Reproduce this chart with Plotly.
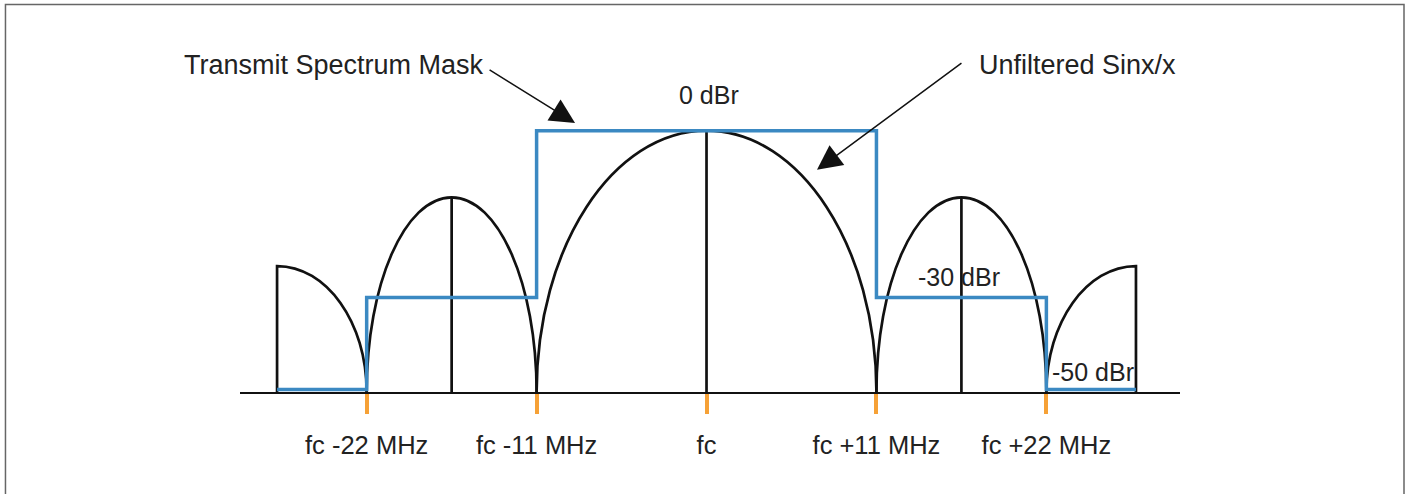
"""
802.11b transmit spectrum mask vs. unfiltered sinx/x spectrum
"""

import plotly.graph_objects as go

# frequency offsets from fc, MHz
tick_mhz = [-22, -11, 0, 11, 22]
tick_text = ["fc -22 MHz", "fc -11 MHz", "fc", "fc +11 MHz", "fc +22 MHz"]

# full sinx/x lobes (heights as drawn, main lobe = 1)
lobe_start = [-22, -11, 11]
lobe_end = [-11, 11, 22]
lobe_height = [0.745, 1.0, 0.745]

# outer half lobes, cut at their peak
half_peak = [-27.8, 27.8]
half_null = [-22, 22]
half_height = [0.482, 0.482]

# transmit spectrum mask
mask_edges = [-27.8, -22, -11, 11, 22, 27.8]
mask_level = [0.010, 0.362, 1.0, 0.362, 0.010]

BLACK = "#111111"
BLUE = "#3b89c2"
ORANGE = "#f6a136"
TEXT = "#222222"
FONT = "Liberation Sans, Arial, Helvetica, sans-serif"
K = 0.5523  # bezier constant for a quarter ellipse

fig = go.Figure()

# mask as a step line
fig.add_trace(go.Scatter(
    x=mask_edges,
    y=mask_level + [mask_level[-1]],
    mode="lines",
    line=dict(color=BLUE, width=3.5, shape="hv"),
    hoverinfo="skip",
    showlegend=False,
))

shapes = []
line_style = dict(color=BLACK, width=2.7)

# full lobes with a centre line
for a, b, h in zip(lobe_start, lobe_end, lobe_height):
    c = (a + b) / 2
    w = (b - a) / 2
    path = (f"M {a},0 C {a},{K*h} {c-K*w},{h} {c},{h} "
            f"C {c+K*w},{h} {b},{K*h} {b},0")
    shapes.append(dict(type="path", path=path, xref="x", yref="y",
                       line=line_style, layer="below"))
    shapes.append(dict(type="line", x0=c, x1=c, y0=0, y1=h, xref="x", yref="y",
                       line=line_style, layer="below"))

# half lobes at the outer edges
for p, n, h in zip(half_peak, half_null, half_height):
    w = n - p
    path = f"M {p},0 L {p},{h} C {p+K*w},{h} {n},{K*h} {n},0"
    shapes.append(dict(type="path", path=path, xref="x", yref="y",
                       line=line_style, layer="below"))

# frame around the picture
shapes.append(dict(type="rect", xref="paper", yref="paper",
                   x0=-0.2495, x1=1.2383, y0=-0.3, y1=0.9885,
                   line=dict(color="#666666", width=1.5)))

annotations = [
    dict(text="Transmit Spectrum Mask", x=-14.3, y=1.25, xanchor="right",
         showarrow=False, font=dict(family=FONT, size=27, color=TEXT)),
    dict(text="Unfiltered Sinx/x", x=17.5, y=1.25, xanchor="left",
         showarrow=False, font=dict(family=FONT, size=27, color=TEXT)),
    dict(text="0 dBr", x=0.15, y=1.137, showarrow=False,
         font=dict(family=FONT, size=25, color=TEXT)),
    dict(text="-30 dBr", x=16.35, y=0.441, showarrow=False,
         font=dict(family=FONT, size=25, color=TEXT)),
    dict(text="-50 dBr", x=25.0, y=0.077, showarrow=False,
         font=dict(family=FONT, size=25, color=TEXT)),
    # arrows
    dict(text="", x=-8.51, y=1.029, ax=-14.14, ay=1.236, axref="x", ayref="y",
         showarrow=True, arrowhead=2, arrowsize=3.3, arrowwidth=1.5,
         arrowcolor=BLACK, standoff=0),
    dict(text="", x=7.15, y=0.85, ax=16.6, ay=1.263, axref="x", ayref="y",
         showarrow=True, arrowhead=2, arrowsize=3.3, arrowwidth=1.5,
         arrowcolor=BLACK, standoff=0),
]

fig.update_layout(
    width=1406,
    height=494,
    margin=dict(l=240, r=226, t=0, b=102),
    paper_bgcolor="white",
    plot_bgcolor="white",
    shapes=shapes,
    annotations=annotations,
    showlegend=False,
    xaxis=dict(
        range=[-30.2, 30.65],
        showgrid=False,
        zeroline=False,
        showline=True,
        linecolor=BLACK,
        linewidth=2,
        ticks="outside",
        ticklen=20,
        tickwidth=3.5,
        tickcolor=ORANGE,
        tickvals=tick_mhz,
        ticktext=tick_text,
        tickfont=dict(family=FONT, size=25.5, color=TEXT),
        ticklabelstandoff=9,
        fixedrange=True,
    ),
    yaxis=dict(range=[0, 1.5], visible=False, fixedrange=True),
)

# drop the default page margin so the figure sits at the window corner
fig.write_html(
    "out.html",
    config={"displayModeBar": False},
    post_script="document.body.style.margin='0';document.body.style.overflow='hidden';",
)
